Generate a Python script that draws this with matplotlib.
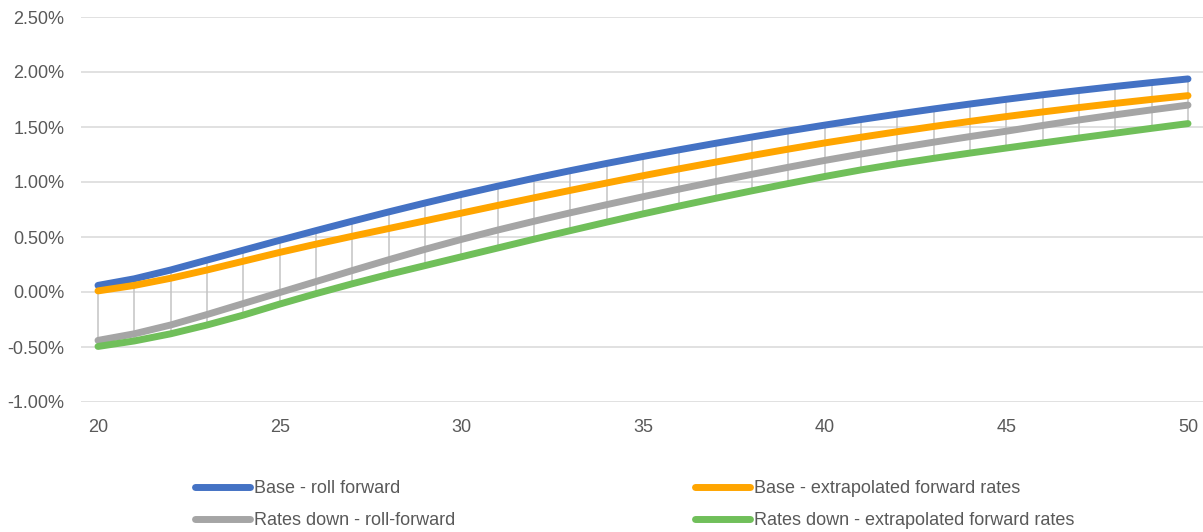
import numpy as np
import matplotlib
matplotlib.use("Agg")
import matplotlib.pyplot as plt
from matplotlib.ticker import FuncFormatter

plt.rcParams['font.family'] = ['Liberation Sans', 'DejaVu Sans']

years = list(range(20, 51))

base_roll = [0.06, 0.12, 0.20, 0.29, 0.38, 0.47, 0.558, 0.644, 0.728, 0.809,
             0.887, 0.962, 1.034, 1.103, 1.169, 1.232, 1.293, 1.352, 1.409, 1.464,
             1.517, 1.568, 1.617, 1.664, 1.709, 1.752, 1.793, 1.832, 1.869, 1.904, 1.937]
base_extrap = [0.01, 0.06, 0.125, 0.20, 0.28, 0.36, 0.435, 0.507, 0.577, 0.647,
               0.717, 0.787, 0.856, 0.924, 0.991, 1.057, 1.120, 1.181, 1.241, 1.299,
               1.355, 1.407, 1.457, 1.505, 1.551, 1.595, 1.637, 1.677, 1.715, 1.751, 1.785]
down_roll = [-0.44, -0.38, -0.30, -0.205, -0.105, -0.005, 0.095, 0.195, 0.293, 0.388,
             0.478, 0.563, 0.643, 0.720, 0.794, 0.866, 0.936, 1.004, 1.070, 1.134,
             1.196, 1.254, 1.309, 1.362, 1.413, 1.462, 1.514, 1.564, 1.611, 1.656, 1.699]
down_extrap = [-0.495, -0.445, -0.38, -0.30, -0.21, -0.11, -0.015, 0.075, 0.16, 0.24,
               0.32, 0.40, 0.48, 0.558, 0.635, 0.71, 0.782, 0.852, 0.920, 0.986,
               1.05, 1.11, 1.165, 1.215, 1.263, 1.309, 1.355, 1.40, 1.444, 1.488, 1.531]

labels = ["Base - roll forward", "Base - extrapolated forward rates",
          "Rates down - roll-forward", "Rates down - extrapolated forward rates"]
colors = ["#4472C4", "#FFA500", "#A5A5A5", "#70BF5A"]
series = [base_roll, base_extrap, down_roll, down_extrap]

fig = plt.figure(figsize=(12.03, 5.32), dpi=100)
ax = fig.add_axes([81 / 1203, 1 - 402 / 532, 1 - 81 / 1203, (402 - 17) / 532])

# high-low lines between the highest and lowest series at each year
data = np.array(series)
ax.vlines(years, data.min(axis=0), data.max(axis=0), color="#C4C4C4",
          lw=1.1, zorder=2)

handles = []
for vals, c, lab in zip(series, colors, labels):
    h, = ax.plot(years, vals, color=c, lw=5, label=lab, zorder=3,
                 solid_capstyle="round", solid_joinstyle="round")
    handles.append(h)

ax.set_ylim(-1.0, 2.5)
ax.set_xlim(20 - 17 / 36.33, 50 + 15 / 36.33)
ax.set_yticks(np.arange(-1.0, 2.51, 0.5))
ax.set_xticks([20, 25, 30, 35, 40, 45, 50])
ax.yaxis.set_major_formatter(FuncFormatter(lambda v, p: f"{v:.2f}%"))
ax.grid(axis="y", color="#D9D9D9", lw=1.1, zorder=0)
ax.set_axisbelow(True)
for s in ax.spines.values():
    s.set_visible(False)
ax.tick_params(length=0, labelsize=13, labelcolor="#595959")
ax.tick_params(axis="y", pad=12)
ax.tick_params(axis="x", pad=12)

order = [0, 2, 1, 3]
leg = fig.legend([handles[i] for i in order], [labels[i] for i in order],
                 loc="upper left", bbox_to_anchor=(195 / 1203, 1 - 480 / 532),
                 ncol=2, frameon=False, fontsize=13, handlelength=3.05,
                 handletextpad=0.22, columnspacing=13.25, labelspacing=0.85,
                 borderpad=0, borderaxespad=0)
for t in leg.get_texts():
    t.set_color("#595959")

fig.savefig("out.png", dpi=100)
